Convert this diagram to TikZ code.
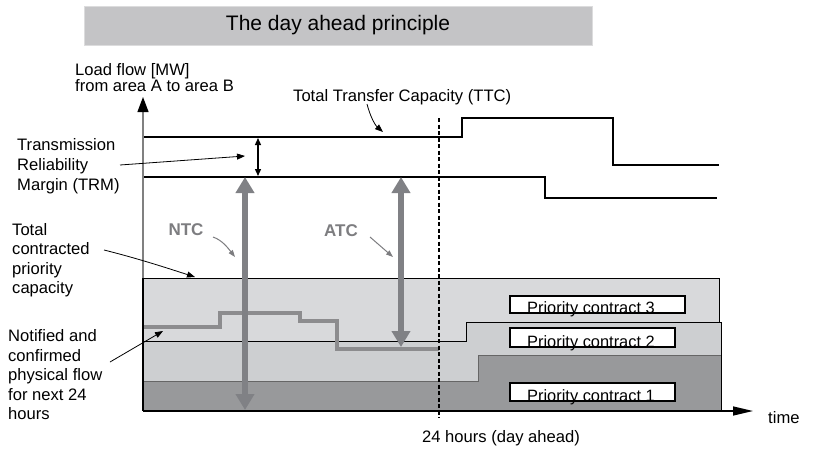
\documentclass[tikz,border=0pt]{standalone}
\usepackage{fontspec}
\setmainfont{Liberation Sans}
\usetikzlibrary{arrows.meta}
\definecolor{titlebg}{RGB}{196,196,198}
\definecolor{bandC}{RGB}{216,217,219}
\definecolor{bandB}{RGB}{205,207,209}
\definecolor{bandA}{RGB}{152,153,155}
\definecolor{capgray}{RGB}{128,129,133}
\definecolor{flowgray}{RGB}{140,140,142}
\definecolor{labgray}{RGB}{125,125,128}
\begin{document}
\begin{tikzpicture}[x=1pt,y=-1pt,
  lab/.style={font=\fontsize{16.6}{19.5}\selectfont, inner sep=0pt, align=left, anchor=west},
  caplab/.style={font=\fontsize{17}{20}\selectfont\bfseries, text=labgray, inner sep=0pt},
  pbox/.style={draw=black, line width=1.4pt, fill=white},
  ptext/.style={font=\fontsize{16.4}{19}\selectfont, inner sep=0pt, anchor=base west},
  pointer/.style={draw=black, line width=0.8pt, -{Triangle[length=8pt,width=6pt]}},
  gpointer/.style={draw=labgray, line width=1pt, -{Triangle[length=7pt,width=5pt]}},
  caparrow/.style={draw=capgray, line width=5.5pt, {Triangle[length=16pt,width=18pt]}-{Triangle[length=16pt,width=18pt]}},
  ]
\useasboundingbox (0,0) rectangle (815,448);

% title
\node[fill=titlebg, draw=titlebg!60!white, minimum width=508, minimum height=39, inner sep=0pt,
      font=\fontsize{21}{24}\selectfont] (title) at (338,25.5) {The day ahead principle};

% bands
\path[fill=bandC, draw=black, line width=1pt] (143,278) rectangle (719,411);
\path[fill=bandB, draw=black, line width=1pt] (143,341) -- (466,341) -- (466,322) -- (721,322) -- (721,411) -- (143,411) -- cycle;
\path[fill=bandA, draw=black!60, line width=0.8pt] (143,381) -- (478,381) -- (478,355) -- (721,355) -- (721,411) -- (143,411) -- cycle;
\draw[black, line width=1pt] (721,355) -- (721,411);

% notified physical flow
\draw[flowgray, line width=4pt, line join=miter] (143,327) -- (220,327) -- (220,313) -- (300,313) -- (300,321) -- (337,321) -- (337,349) -- (439,349);

% capacity lines
\draw[black, line width=2.8pt] (143,137) -- (462,137) -- (462,118) -- (613,118) -- (613,165) -- (719,165);
\draw[black, line width=1.6pt] (143,177) -- (545,177) -- (545,198) -- (717,198);

% axes
\coordinate (O) at (143,411);
\coordinate (ytop) at (143,97);
\coordinate (xend) at (753,411);
\draw[gray, line width=1.2pt, -{Triangle[length=15pt,width=11pt,color=black]}] (O) -- (ytop);
\draw[black, line width=1.2pt] (143,278) -- (O);
\draw[black, line width=1.4pt, -{Triangle[length=20pt,width=9pt]}] (O) -- (xend);

% day-ahead dashed line
\coordinate (dtop) at (439,118);
\coordinate (dbot) at (439,418);
\draw[black, line width=1.1pt, dash pattern=on 4pt off 2.5pt] (dtop) -- (dbot);

% TRM double arrow
\coordinate (trmA) at (258,138);
\coordinate (trmB) at (258,176);
\draw[black, line width=1.3pt, {Triangle[length=7pt,width=6pt]}-{Triangle[length=7pt,width=6pt]}] (trmA) -- (trmB);

% NTC and ATC arrows
\coordinate (ntcT) at (245,177);
\coordinate (ntcB) at (245,410);
\draw[caparrow] (ntcT) -- (ntcB);
\coordinate (atcT) at (401,177);
\coordinate (atcB) at (401,347);
\draw[caparrow] (atcT) -- (atcB);

% priority contract boxes
\draw[pbox] (510,296) rectangle (685,313);
\node[ptext] (pc3) at (527,313) {Priority contract 3};
\draw[pbox] (510,328) rectangle (675,347);
\node[ptext] (pc2) at (527,347) {Priority contract 2};
\draw[pbox] (510,383) rectangle (675,401);
\node[ptext] (pc1) at (527,401) {Priority contract 1};

% labels
\node[lab, align=left, font=\fontsize{16.6}{15}\selectfont] (load) at (75,77.5) {Load flow [MW]\\from area A to area B};
\node[lab] (ttc) at (293,97) {Total Transfer Capacity (TTC)};
\node[lab, font=\fontsize{16.6}{20}\selectfont] (trm) at (17,166) {Transmission\\Reliability\\Margin (TRM)};
\node[lab] (tcp) at (12,260) {Total\\contracted\\priority\\capacity};
\node[lab] (nfc) at (8,375) {Notified and\\confirmed\\physical flow\\for next 24\\hours};
\node[caplab] (ntc) at (186,230) {NTC};
\node[caplab] (atc) at (341,231) {ATC};
\node[lab, anchor=center] (day) at (501,438) {24 hours (day ahead)};
\node[lab] (time) at (768,418) {time};

% pointers
\coordinate (ttcA) at (367,104);
\coordinate (ttcB) at (383,132);
\draw[pointer] (ttcA) .. controls (370,116) and (375,125) .. (ttcB);
\coordinate (trmP0) at (120,165);
\coordinate (trmP1) at (245,156);
\draw[pointer] (trmP0) -- (trmP1);
\coordinate (tcpP0) at (104,250);
\coordinate (tcpP1) at (195,277);
\draw[pointer] (tcpP0) .. controls (140,259) and (170,269) .. (tcpP1);
\coordinate (nfcP0) at (110,362);
\coordinate (nfcP1) at (163,331);
\draw[pointer] (nfcP0) -- (nfcP1);
\coordinate (ntcP0) at (213,237);
\coordinate (ntcP1) at (235,257);
\draw[gpointer] (ntcP0) .. controls (222,240) and (228,248) .. (ntcP1);
\coordinate (atcP0) at (370,237);
\coordinate (atcP1) at (393,257);
\draw[gpointer] (atcP0) -- (atcP1);
\end{tikzpicture}
\end{document}
